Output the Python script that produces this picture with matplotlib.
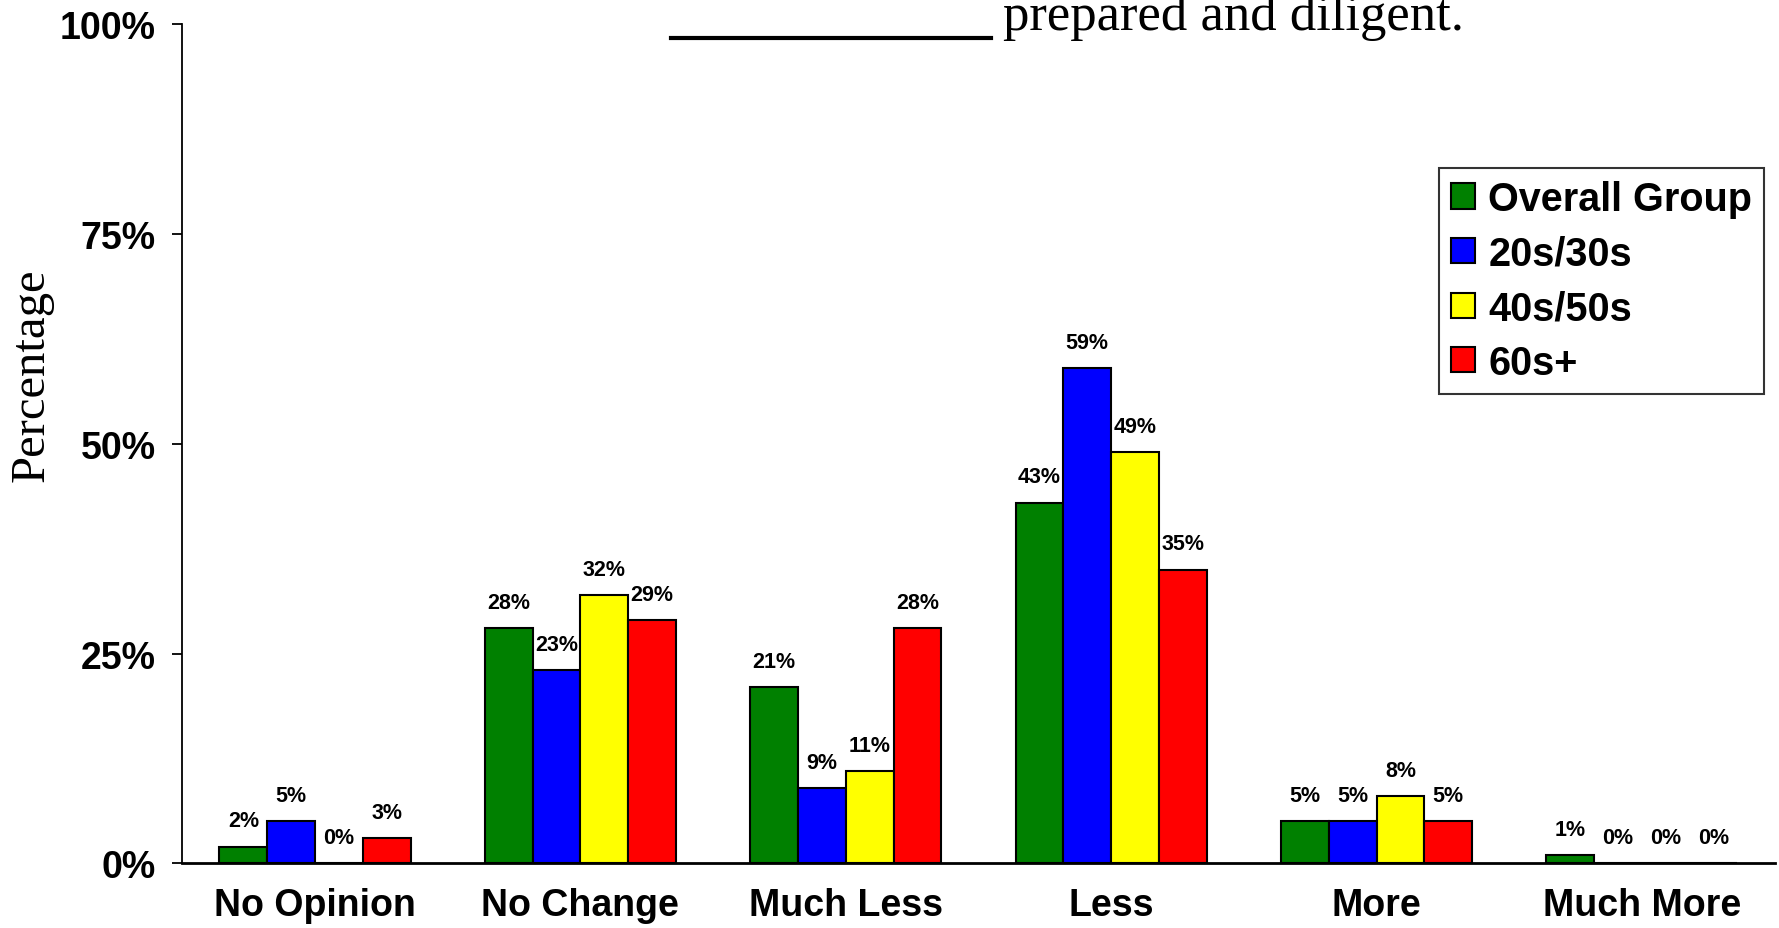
import numpy as np
import matplotlib
matplotlib.use("Agg")
import matplotlib.pyplot as plt
from matplotlib.lines import Line2D

# --- dados ---
categories = ["No Opinion", "No Change", "Much Less", "Less", "More", "Much More"]
series_names = ["Overall Group", "20s/30s", "40s/50s", "60s+"]
overall = [2, 28, 21, 43, 5, 1]
age_20_30 = [5, 23, 9, 59, 5, 0]
age_40_50 = [0, 32, 11, 49, 8, 0]
age_60 = [3, 29, 28, 35, 5, 0]
colors = ["#008000", "#0000FF", "#FFFF00", "#FF0000"]

series = [overall, age_20_30, age_40_50, age_60]

plt.rcParams["font.family"] = "Liberation Sans"
plt.rcParams["font.weight"] = "bold"

fig = plt.figure(figsize=(17.79, 9.29), dpi=100)
ax = fig.add_axes([0.1025, 0.0695, 0.895, 0.9035])

x = np.arange(len(categories))
width = 0.18
for i, (name, vals, col) in enumerate(zip(series_names, series, colors)):
    pos = x + (i - 1.5) * width
    ax.bar(pos, vals, width, color=col, edgecolor="black", linewidth=1.5,
           label=name, zorder=3)
    for px, v in zip(pos, vals):
        ax.annotate(f"{v}%", (px, v), xytext=(0, 11), textcoords="offset points",
                    ha="center", va="bottom", fontsize=15.5, fontweight="bold")

ax.set_xlim(-0.5, len(categories) - 0.5)
ax.set_ylim(0, 100)
ax.set_yticks([0, 25, 50, 75, 100])
ax.set_yticklabels(["0%", "25%", "50%", "75%", "100%"])
ax.set_xticks(x)
ax.set_xticklabels(categories)

ax.tick_params(axis="x", length=0, pad=17, labelsize=27)
ax.tick_params(axis="y", direction="out", length=7, width=1.3, pad=12, labelsize=27)
for lab in ax.get_xticklabels() + ax.get_yticklabels():
    lab.set_fontweight("bold")

ax.spines["top"].set_visible(False)
ax.spines["right"].set_visible(False)
ax.spines["left"].set_linewidth(1.3)
ax.spines["bottom"].set_linewidth(2)

leg = ax.legend(loc="upper right", bbox_to_anchor=(1.006, 0.852),
                prop={"weight": "bold", "size": 28.5}, frameon=True, fancybox=False,
                edgecolor="black", handlelength=0.6, handleheight=0.6,
                handletextpad=0.35, labelspacing=0.42, borderpad=0.3)
leg.get_frame().set_linewidth(1.5)

# rotulo do eixo y e titulo cortado
fig.text(0.018, 0.596, "Percentage", rotation=90, ha="center", va="center",
         fontsize=35, family="Liberation Serif", fontweight="normal")
fig.text(0.564, 0.968, "prepared and diligent.", ha="left", va="baseline",
         fontsize=38, family="Liberation Serif", fontweight="normal")
fig.add_artist(Line2D([0.377, 0.557], [0.958, 0.958], color="black", linewidth=3,
                      transform=fig.transFigure))

fig.savefig("out.png", dpi=100)
